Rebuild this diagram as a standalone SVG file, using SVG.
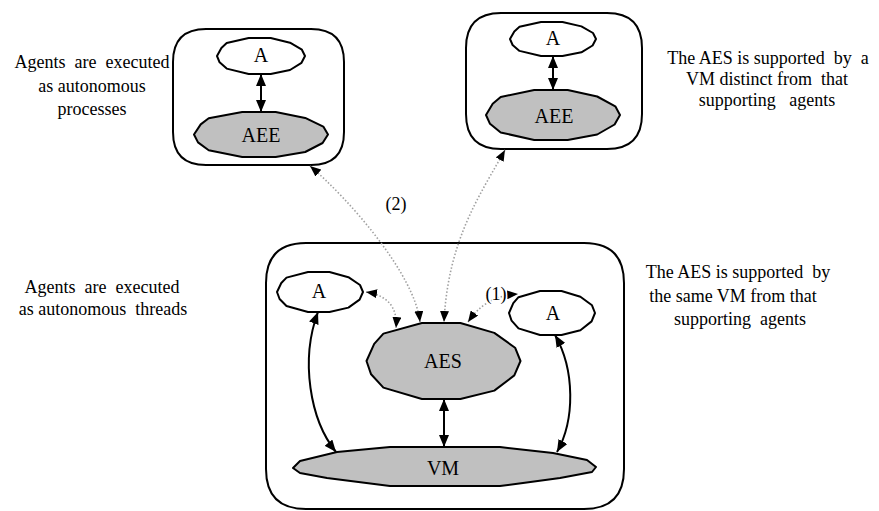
<svg xmlns="http://www.w3.org/2000/svg" width="879" height="511" viewBox="0 0 879 511">
  <style>
    .box { fill: none; stroke: #000; stroke-width: 2; }
    .agent { fill: #fff; stroke: #000; stroke-width: 2; stroke-linejoin: round; }
    .env { fill: #c0c0c0; stroke: #000; stroke-width: 2; stroke-linejoin: round; }
    .link { fill: none; stroke: #000; stroke-width: 2; marker-start: url(#head); marker-end: url(#head); }
    .dots { fill: none; stroke: #a0a0a0; stroke-width: 1.6; stroke-dasharray: 1.5 2; marker-start: url(#head-s); marker-end: url(#head-s); }
    .lbl { font-family: "Liberation Serif", "Times New Roman", serif; font-size: 20px; fill: #000; text-anchor: middle; }
    .note { font-family: "Liberation Serif", "Times New Roman", serif; font-size: 18px; fill: #000; text-anchor: middle; white-space: pre; }
    .tag { font-family: "Liberation Serif", "Times New Roman", serif; font-size: 18px; fill: #000; text-anchor: middle; stroke: #fff; stroke-width: 3; paint-order: stroke; }
  </style>
  <defs>
    <marker id="head" markerUnits="userSpaceOnUse" viewBox="0 0 12 10" refX="12" refY="5" markerWidth="12" markerHeight="10" orient="auto-start-reverse">
      <path d="M0,0 L12,5 L0,10 Z" fill="#000"/>
    </marker>
    <marker id="head-s" markerUnits="userSpaceOnUse" viewBox="0 0 11 9" refX="11" refY="4.5" markerWidth="11" markerHeight="9" orient="auto-start-reverse">
      <path d="M0,0 L11,4.5 L0,9 Z" fill="#000"/>
    </marker>
  </defs>

  <!-- annotations -->
  <g id="notes">
    <text class="note" xml:space="preserve" x="92" y="68">Agents  are  executed</text>
    <text class="note" x="92" y="92">as autonomous</text>
    <text class="note" x="92" y="115">processes</text>

    <text class="note" xml:space="preserve" x="768" y="64">The AES is supported  by  a</text>
    <text class="note" xml:space="preserve" x="767" y="85">VM distinct from  that</text>
    <text class="note" xml:space="preserve" x="767" y="106">supporting   agents</text>

    <text class="note" xml:space="preserve" x="102" y="293">Agents  are  executed</text>
    <text class="note" xml:space="preserve" x="103" y="315">as autonomous  threads</text>

    <text class="note" xml:space="preserve" x="738" y="278">The AES is supported  by</text>
    <text class="note" xml:space="preserve" x="733" y="302">the same VM from that</text>
    <text class="note" xml:space="preserve" x="740" y="325">supporting  agents</text>
  </g>

  <!-- process-based host (left) -->
  <g id="host-processes">
    <path class="box" d="M206,29 L311,29 Q344,29 344,62 L344,132 Q344,165 311,165 L206,165 Q173,165 173,132 L173,62 Q173,29 206,29 Z"/>
  </g>
  <g id="agent-p">
    <path class="agent" d="M305,56 L301.5,62.8 L290,70 L270.7,74 L248.7,74 L226.7,68.6 L219.6,62.3 L217,56 L221.4,47.9 L226.7,43 L248.7,38 L270.7,38 L290,42.7 L301.9,49.7 Z"/>
    <text class="lbl" x="261" y="62">A</text>
  </g>
  <g id="aee-p">
    <path class="env" d="M328,134.5 L322.6,143 L305.2,152 L275.7,157 L242.2,157 L208.7,150.3 L198,142.4 L194,134.5 L200.7,124.4 L208.7,118.3 L242.2,112 L275.7,112 L305.2,117.9 L323.3,126.6 Z"/>
    <text class="lbl" x="261" y="142">AEE</text>
  </g>

  <!-- separate-VM host (right) -->
  <g id="host-vm">
    <path class="box" d="M501,13 L607,13 Q642,13 642,48 L642,114 Q642,149 607,149 L501,149 Q466,149 466,114 L466,48 Q466,13 501,13 Z"/>
  </g>
  <g id="agent-v">
    <path class="agent" d="M596,39 L592.6,45.5 L581.4,52.3 L562.5,56 L541,56 L519.5,50.9 L512.6,45 L510,39 L514.3,31.4 L519.5,26.8 L541,22 L562.5,22 L581.4,26.4 L593,33 Z"/>
    <text class="lbl" x="553" y="45">A</text>
  </g>
  <g id="aee-v">
    <path class="env" d="M620,115 L614.6,124.5 L597.2,134.5 L567.7,140 L534.2,140 L500.7,132.5 L490,123.8 L486,115 L492.7,103.8 L500.7,97 L534.2,90 L567.7,90 L597.2,96.5 L615.3,106.3 Z"/>
    <text class="lbl" x="554" y="123">AEE</text>
  </g>

  <!-- thread-based host (bottom) -->
  <g id="host-threads">
    <path class="box" d="M306,243 L584,243 Q624,243 624,283 L624,469 Q624,509 584,509 L306,509 Q266,509 266,469 L266,283 Q266,243 306,243 Z"/>
  </g>
  <g id="agent-t1">
    <path class="agent" d="M363,292 L359.6,299.6 L348.4,307.6 L329.5,312 L308,312 L286.5,306 L279.6,299 L277,292 L281.3,283 L286.5,277.6 L308,272 L329.5,272 L348.4,277.2 L360,285 Z"/>
    <text class="lbl" x="319" y="298">A</text>
  </g>
  <g id="aes">
    <path class="env" d="M520.5,361 L514.3,375.4 L494.3,390.6 L460.4,399 L421.9,399 L383.4,387.6 L371.1,374.3 L366.5,361 L374.2,343.9 L383.4,333.6 L421.9,323 L460.4,323 L494.3,332.9 L515.1,347.7 Z"/>
    <text class="lbl" x="443" y="368">AES</text>
  </g>
  <g id="agent-t2">
    <path class="agent" d="M595,313 L591.6,321.4 L580.4,330.2 L561.5,335 L540,335 L518.5,328.4 L511.6,320.7 L509,313 L513.3,303.1 L518.5,297.2 L540,291 L561.5,291 L580.4,296.7 L592,305.3 Z"/>
    <text class="lbl" x="553" y="320">A</text>
  </g>
  <g id="vm">
    <path class="env" d="M293,468 L300,461 L337,452 L390,447 L500,447 L553,453 L587,460 L596,467 L592,472 L560,478 L523,483 L500,486 L390,486 L327,478 L300,473 Z"/>
    <text class="lbl" x="443" y="475">VM</text>
  </g>

  <!-- connectors -->
  <g id="connectors">
    <path class="link" d="M261,74 L261,112"/>
    <path class="link" d="M553,56 L553,90"/>
    <path class="link" d="M444,399 L444,447"/>
    <path class="link" d="M318,312 C300,360 310,420 336,452"/>
    <path class="link" d="M555,335 C575,370 575,420 557,452"/>

    <path class="dots" d="M310,166 C350,200 415,275 420,322"/>
    <path class="dots" d="M505,150 C480,195 448,240 444,322"/>
    <path class="dots" d="M366,292 C385,295 398,305 396,328"/>
    <path class="dots" d="M468,322 C478,308 490,296 518,294"/>
    <text class="tag" x="396" y="210">(2)</text>
    <text class="tag" x="496" y="300">(1)</text>
  </g>
</svg>
